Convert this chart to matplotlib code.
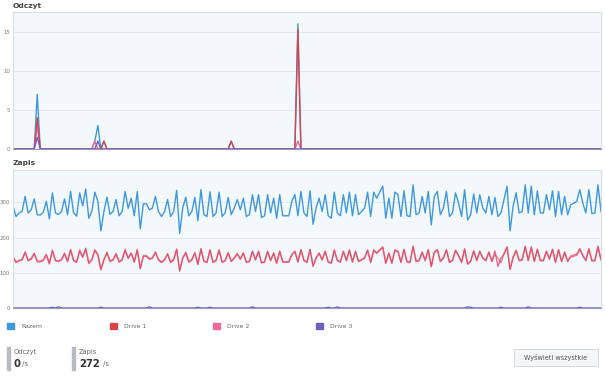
import numpy as np
import matplotlib.pyplot as plt
from matplotlib.patches import Rectangle, FancyBboxPatch

# ---- data ----
series_names = ['Razem', 'Drive 1', 'Drive 2', 'Drive 3']
series_colors = ['#3f98df', '#d9444b', '#f06a96', '#6b5fc4']

# Zapis (write) per second
write_razem = [
    289, 260, 270, 274, 317, 270, 279, 310, 265, 264, 272, 303, 253, 327, 270, 266, 274, 310, 265, 331,
    270, 261, 327, 290, 338, 255, 274, 329, 303, 219, 274, 315, 266, 274, 308, 262, 274, 331, 283, 312,
    262, 331, 225, 296, 296, 279, 284, 317, 274, 260, 274, 308, 260, 274, 334, 212, 284, 315, 262, 274,
    314, 248,
    336, 265, 260, 330, 260, 270, 329, 260, 270, 314, 265, 284, 308, 279, 312, 260, 265, 322, 274, 322,
    257, 262, 322, 270, 312, 255, 322, 262, 262, 262, 303, 322, 262, 331, 270, 260, 333, 238, 284, 312,
    274, 322, 262, 255, 329, 270, 262, 322, 270, 329, 262, 322, 265, 274, 284, 329, 260, 329, 312, 329,
    346, 255, 312, 255, 329,
    322, 260, 333, 262, 260, 350, 265, 270, 317, 270, 331, 236, 317, 331, 265, 284, 331, 260, 270, 327,
    298, 260, 336, 250, 265, 324, 270, 322, 284, 270, 317, 265, 314, 260, 270, 308, 346, 219, 289, 327,
    270, 274, 350, 270, 346, 265, 333, 270, 270, 322, 279, 333, 260, 331, 265, 317, 265, 293, 298, 303,
    336, 298, 270, 336, 268, 270, 350, 274,
]
write_drive1 = [
    146, 131, 136, 138, 160, 136, 141, 156, 134, 133, 137, 153, 128, 165, 136, 134, 138, 156, 134, 167,
    136, 132, 165, 146, 170, 129, 138, 166, 153, 111, 138, 159, 134, 138, 155, 132, 138, 167, 143, 157,
    132, 166, 114, 149, 149, 141, 143, 160, 138, 131, 138, 155, 131, 138, 168, 107, 143, 159, 132, 138,
    158, 125,
    169, 133, 131, 166, 131, 136, 165, 131, 136, 158, 133, 143, 155, 141, 157, 131, 133, 162, 138, 162,
    129, 132, 162, 136, 157, 128, 162, 132, 132, 132, 153, 162, 132, 166, 136, 131, 167, 120, 143, 157,
    138, 162, 132, 128, 165, 136, 132, 162, 136, 165, 132, 162, 133, 138, 143, 165, 131, 165, 157, 165,
    174, 128, 157, 128, 165,
    162, 131, 167, 132, 131, 176, 133, 136, 160, 136, 166, 119, 160, 166, 133, 143, 166, 131, 136, 164,
    150, 131, 169, 126, 133, 163, 136, 162, 143, 136, 160, 133, 152, 142, 128, 156, 174, 110, 146, 164,
    136, 138, 176, 136, 174, 133, 167, 136, 136, 162, 141, 167, 131, 166, 133, 160, 133, 148, 151, 153,
    169, 150, 136, 169, 135, 136, 176, 138,
]
write_drive2 = [
    143, 129, 134, 136, 157, 134, 138, 154, 131, 131, 135, 150, 125, 162, 134, 132, 136, 154, 131, 164,
    134, 129, 162, 144, 168, 126, 136, 163, 150, 108, 136, 156, 132, 136, 153, 130, 136, 164, 140, 155,
    130, 165, 111, 147, 147, 138, 141, 157, 136, 129, 136, 153, 129, 136, 166, 105, 141, 156, 130, 136,
    156, 123,
    167, 132, 129, 164, 129, 134, 164, 129, 134, 156, 132, 141, 153, 138, 155, 129, 132, 160, 136, 160,
    128, 130, 160, 134, 155, 127, 160, 130, 130, 130, 150, 160, 130, 165, 134, 129, 166, 118, 141, 155,
    136, 160, 130, 127, 164, 134, 130, 160, 134, 164, 130, 160, 132, 136, 141, 164, 129, 164, 155, 164,
    172, 127, 155, 127, 164,
    160, 129, 166, 130, 129, 174, 132, 134, 157, 134, 165, 117, 157, 165, 132, 141, 165, 129, 134, 163,
    148, 129, 167, 124, 132, 161, 134, 160, 141, 134, 157, 132, 162, 118, 142, 152, 172, 109, 143, 163,
    134, 136, 174, 134, 172, 132, 166, 134, 134, 160, 138, 166, 129, 165, 132, 157, 132, 145, 147, 150,
    167, 148, 134, 167, 133, 134, 174, 136,
]
# Drive 3 writes: mostly zero, small bumps {sample index: value}
write_drive3_bumps = {13: 2, 15: 3, 29: 2, 45: 3, 61: 2, 65: 2, 79: 3, 104: 2, 107: 3,
                      150: 3, 151: 2, 161: 2, 170: 3, 187: 2}

# Odczyt (read) per second: zero except these spikes {sample index: value}
read_razem_spikes = {8: 7, 27: 1, 28: 3, 30: 1, 72: 1, 94: 16}
read_drive1_spikes = {8: 4, 30: 1, 72: 1, 94: 15.3}
read_drive2_spikes = {8: 3, 27: 1, 94: 1}
read_drive3_spikes = {8: 1.5, 28: 1}

stat_read = '0'
stat_write = '272'

n = len(write_razem)
x = np.arange(n)


def from_spikes(spikes):
    arr = np.zeros(n)
    for k, v in spikes.items():
        arr[k] = v
    return arr


read_series = [from_spikes(read_razem_spikes), from_spikes(read_drive1_spikes),
               from_spikes(read_drive2_spikes), from_spikes(read_drive3_spikes)]
write_series = [np.array(write_razem), np.array(write_drive1),
                np.array(write_drive2), from_spikes(write_drive3_bumps)]

# draw order: Razem, Drive 2, Drive 1, Drive 3 (red sits over pink like the reference)
draw_order = [0, 2, 1, 3]

# ---- figure ----
fig = plt.figure(figsize=(6.05, 3.76), dpi=100)
W, H = 605, 376


def fx(px):
    return px / W


def fy(py):
    return 1 - py / H


ax_r = fig.add_axes([fx(13), fy(149), fx(588), 137 / H])
ax_w = fig.add_axes([fx(13), fy(308), fx(588), 138 / H])

for ax, series, ylim, ticks in [(ax_r, read_series, 17.5, [0, 5, 10, 15]),
                                (ax_w, write_series, 392, [0, 100, 200, 300])]:
    ax.set_facecolor('#f3f8fd')
    for i in draw_order:
        alpha = 0.6 if i == 1 and ax is ax_w else 1
        ax.plot(x, series[i], color=series_colors[i], lw=1.0, alpha=alpha)
    ax.set_xlim(0, n - 1)
    ax.set_ylim(0, ylim)
    ax.set_yticks(ticks)
    ax.set_xticks([])
    ax.grid(axis='y', color='#dfe4e9', lw=0.6)
    ax.set_axisbelow(True)
    ax.tick_params(axis='y', length=0, pad=2, labelsize=3.9, labelcolor='#777777')
    for sp in ax.spines.values():
        sp.set_color('#d9dee3')
        sp.set_linewidth(0.8)
    ax.spines['bottom'].set_color('#9a98b8')

fig.text(fx(13), fy(6), 'Odczyt', fontsize=5.4, fontweight='bold', color='#444444', va='center')
fig.text(fx(13), fy(163), 'Zapis', fontsize=5.4, fontweight='bold', color='#444444', va='center')

# legend
leg_x = [7, 110, 213, 316]
for lx, name, c in zip(leg_x, series_names, series_colors):
    fig.patches.append(Rectangle((fx(lx), fy(329)), fx(6.5), 6.5 / H, color=c,
                                 transform=fig.transFigure, figure=fig))
    fig.text(fx(lx + 14), fy(326), name, fontsize=4.4, color='#666666', va='center')

# stats
for bx, label, val, vw in [(7, 'Odczyt', stat_read, 8), (72, 'Zapis', stat_write, 24)]:
    fig.patches.append(Rectangle((fx(bx), fy(370)), fx(2.5), 23 / H, color='#b8bcc2',
                                 transform=fig.transFigure, figure=fig))
    fig.text(fx(bx + 7), fy(352), label, fontsize=4.8, color='#666666', va='center')
    fig.text(fx(bx + 7), fy(364), val, fontsize=7.3, fontweight='bold', color='#333333', va='center')
    fig.text(fx(bx + 7 + vw), fy(364), '/s', fontsize=5, color='#666666', va='center')

# button
fig.patches.append(FancyBboxPatch((fx(514), fy(366)), fx(84), 17 / H,
                                  boxstyle='square,pad=0', facecolor='#f4f6f8',
                                  edgecolor='#d3d8dd', lw=0.7,
                                  transform=fig.transFigure, figure=fig))
fig.text(fx(556), fy(357.5), 'Wyświetl wszystkie', fontsize=4.7, color='#555555',
         ha='center', va='center')

fig.savefig('out.png', dpi=100, facecolor='white')
